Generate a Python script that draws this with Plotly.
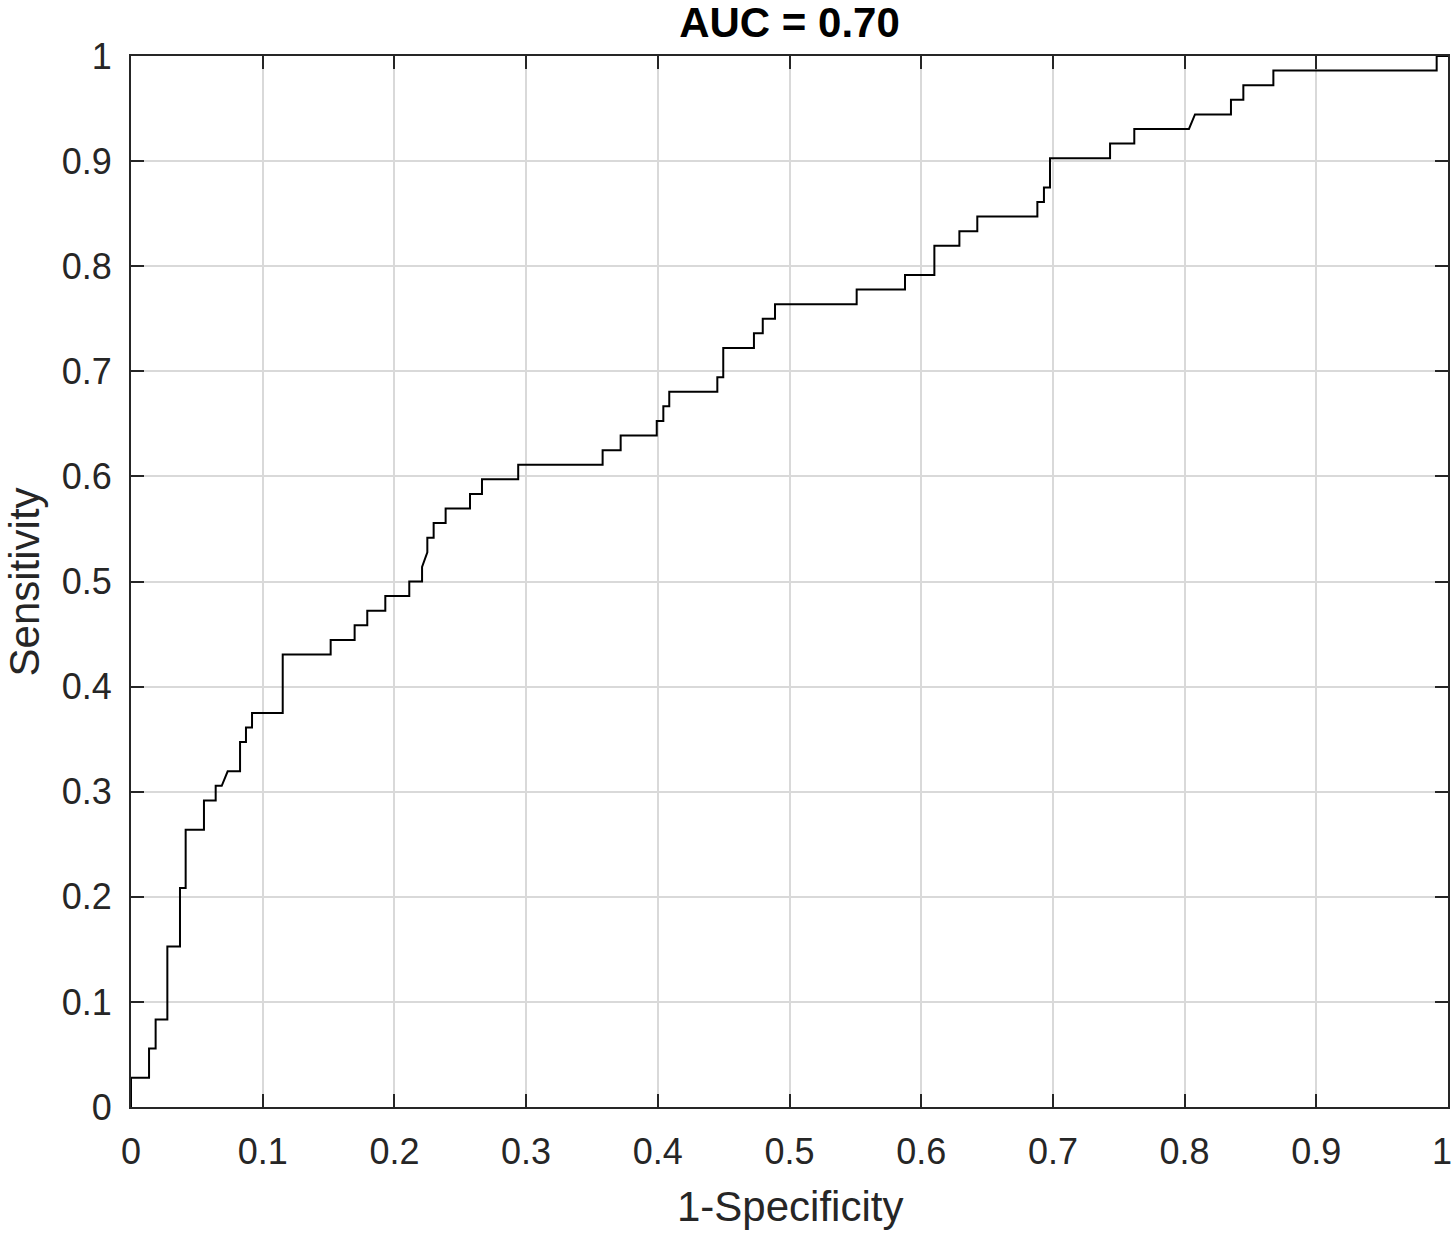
import plotly.graph_objects as go

# ROC curve vertices (1-Specificity, Sensitivity)
fpr = [0, 0, 0.0137, 0.0137, 0.0187, 0.0187, 0.0276, 0.0276, 0.0372, 0.0372,
       0.0415, 0.0415, 0.0554, 0.0554, 0.0643, 0.0643, 0.0689, 0.0734, 0.0828, 0.0828,
       0.0873, 0.0873, 0.0919, 0.0919, 0.1152, 0.1152, 0.1516, 0.1516, 0.1698, 0.1698,
       0.1794, 0.1794, 0.1931, 0.1931, 0.2113, 0.2113, 0.2210, 0.2210, 0.2250, 0.2250,
       0.2298, 0.2298, 0.2389, 0.2389, 0.2574, 0.2574, 0.2665, 0.2665, 0.2940, 0.2940,
       0.3581, 0.3581, 0.3718, 0.3718, 0.3992, 0.3992, 0.4042, 0.4042, 0.4087, 0.4087,
       0.4452, 0.4452, 0.4497, 0.4497, 0.4730, 0.4730, 0.4797, 0.4797, 0.4890, 0.4890,
       0.5510, 0.5510, 0.5877, 0.5877, 0.6100, 0.6100, 0.6290, 0.6290, 0.6426, 0.6426,
       0.6882, 0.6882, 0.6932, 0.6932, 0.6978, 0.6978, 0.7434, 0.7434, 0.7618, 0.7618,
       0.8033, 0.8079, 0.8352, 0.8352, 0.8446, 0.8446, 0.8674, 0.8674, 0.9914, 0.9914, 1.0]
tpr = [0, 0.0278, 0.0278, 0.0556, 0.0556, 0.0833, 0.0833, 0.1528, 0.1528, 0.2083,
       0.2083, 0.2639, 0.2639, 0.2917, 0.2917, 0.3056, 0.3056, 0.3194, 0.3194, 0.3472,
       0.3472, 0.3611, 0.3611, 0.3750, 0.3750, 0.4306, 0.4306, 0.4444, 0.4444, 0.4583,
       0.4583, 0.4722, 0.4722, 0.4861, 0.4861, 0.5000, 0.5000, 0.5139, 0.5278, 0.5417,
       0.5417, 0.5556, 0.5556, 0.5694, 0.5694, 0.5833, 0.5833, 0.5972, 0.5972, 0.6111,
       0.6111, 0.6250, 0.6250, 0.6389, 0.6389, 0.6528, 0.6528, 0.6667, 0.6667, 0.6806,
       0.6806, 0.6944, 0.6944, 0.7222, 0.7222, 0.7361, 0.7361, 0.7500, 0.7500, 0.7639,
       0.7639, 0.7778, 0.7778, 0.7917, 0.7917, 0.8194, 0.8194, 0.8333, 0.8333, 0.8472,
       0.8472, 0.8611, 0.8611, 0.8750, 0.8750, 0.9028, 0.9028, 0.9167, 0.9167, 0.9306,
       0.9306, 0.9444, 0.9444, 0.9583, 0.9583, 0.9722, 0.9722, 0.9861, 0.9861, 1.0, 1.0]

tick_vals = [0, 0.1, 0.2, 0.3, 0.4, 0.5, 0.6, 0.7, 0.8, 0.9, 1]
tick_text = ["0", "0.1", "0.2", "0.3", "0.4", "0.5", "0.6", "0.7", "0.8", "0.9", "1"]

title_text = "AUC = 0.70"
x_title = "1-Specificity"
y_title = "Sensitivity"

FONT = "Liberation Sans, Arial, Helvetica, sans-serif"
AX = "#262626"

fig = go.Figure()
fig.add_trace(go.Scatter(x=fpr, y=tpr, mode="lines",
                         line=dict(color="#000000", width=2),
                         showlegend=False, hoverinfo="x+y", cliponaxis=False))

axis_common = dict(
    range=[0, 1], tickvals=tick_vals,
    showgrid=True, gridcolor="#d9d9d9", gridwidth=1.5,
    zeroline=False, showline=True, linecolor=AX, linewidth=2, mirror="ticks",
    ticks="inside", ticklen=13, tickwidth=2, tickcolor=AX,
    tickfont=dict(family=FONT, size=36, color=AX),
    automargin=False,
)

# last x tick label is drawn as an annotation so it stays inside the page edge
x_tick_text = tick_text[:-1] + [""]

fig.update_layout(
    width=1456, height=1235,
    margin=dict(l=131, r=8, t=56, b=128, autoexpand=False),
    paper_bgcolor="white", plot_bgcolor="white",
    xaxis=dict(**axis_common, ticktext=x_tick_text, ticklabelstandoff=12),
    yaxis=dict(**axis_common, ticktext=tick_text, ticklabelstandoff=10),
    title=dict(text="<b>" + title_text + "</b>", x=0.5, xref="paper",
               y=1 - 22 / 1235, yref="container", yanchor="middle", xanchor="center",
               font=dict(family=FONT, size=42, color="#000000")),
    annotations=[
        dict(text=tick_text[-1], xref="x", yref="paper", x=tick_vals[-1], y=-0.0419,
             xanchor="right", yanchor="middle", xshift=6, showarrow=False,
             font=dict(family=FONT, size=36, color=AX)),
        dict(text=x_title, xref="paper", yref="paper", x=0.5, y=-0.0942,
             xanchor="center", yanchor="middle", showarrow=False,
             font=dict(family=FONT, size=42, color=AX)),
        dict(text=y_title, xref="paper", yref="paper", x=-0.0805, y=0.5,
             xanchor="center", yanchor="middle", showarrow=False, textangle=-90,
             font=dict(family=FONT, size=42, color=AX)),
    ],
)

fig.write_html("out.html")
